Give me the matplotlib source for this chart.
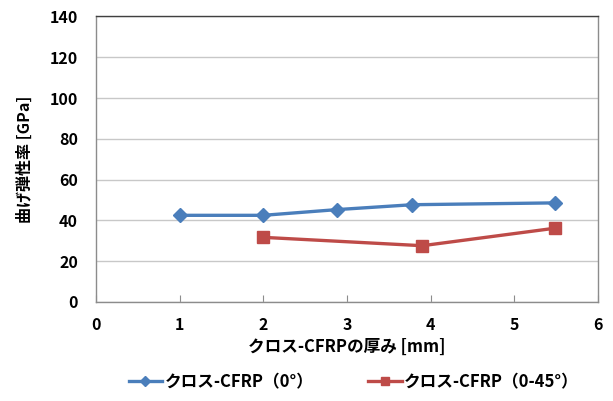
import matplotlib
matplotlib.use("Agg")
import matplotlib.pyplot as plt

plt.rcParams['font.family'] = ['Noto Sans CJK JP', 'DejaVu Sans']

# thickness [mm] vs flexural modulus [GPa]
thick_0 = [1.0, 2.0, 2.88, 3.78, 5.49]
modulus_0 = [42.5, 42.5, 45.3, 47.7, 48.6]
thick_045 = [2.0, 3.9, 5.49]
modulus_045 = [31.7, 27.6, 36.2]

label_0 = "クロス-CFRP（0°）"
label_045 = "クロス-CFRP（0-45°）"
x_ticks = [0, 1, 2, 3, 4, 5, 6]
y_ticks = [0, 20, 40, 60, 80, 100, 120, 140]

BLUE = "#4a7ebb"
RED = "#be4b48"

fig = plt.figure(figsize=(6.13, 4.01), dpi=100)
ax = fig.add_axes([0.1566, 0.2469, 0.8189, 0.712])

ax.plot(thick_0, modulus_0, color=BLUE, lw=2.4, marker="D", ms=7,
        label=label_0, zorder=3)
ax.plot(thick_045, modulus_045, color=RED, lw=2.4, marker="s", ms=8.5,
        label=label_045, zorder=3)

ax.set_xlim(0, 6)
ax.set_ylim(0, 140)
ax.set_xticks(x_ticks)
ax.set_yticks(y_ticks)
ax.yaxis.grid(True, color="#c8c8c8", lw=1.0)
ax.set_axisbelow(True)

for side, col in [("left", "#8c8c8c"), ("right", "#8c8c8c"),
                  ("bottom", "#8c8c8c"), ("top", "#404040")]:
    ax.spines[side].set_color(col)
    ax.spines[side].set_linewidth(1.0)

ax.tick_params(axis="x", direction="in", length=5, color="#8c8c8c",
               labelsize=11.5, pad=11)
ax.tick_params(axis="y", length=0, labelsize=11.5, pad=13)
for lab in ax.get_xticklabels() + ax.get_yticklabels():
    lab.set_fontweight("bold")

ax.set_xlabel("クロス-CFRPの厚み [mm]", fontsize=12, fontweight="bold",
              labelpad=3)
ax.set_ylabel("曲げ弾性率 [GPa]", fontsize=11.5, fontweight="bold",
              labelpad=12)

leg = fig.legend(loc="center", bbox_to_anchor=(0.577, 0.047), ncol=2,
                 frameon=False, handlelength=2.0, columnspacing=3.3,
                 handletextpad=0.15, markerscale=0.75,
                 prop={"size": 12, "weight": "bold"})

fig.savefig("out.png", dpi=100, facecolor="white")
